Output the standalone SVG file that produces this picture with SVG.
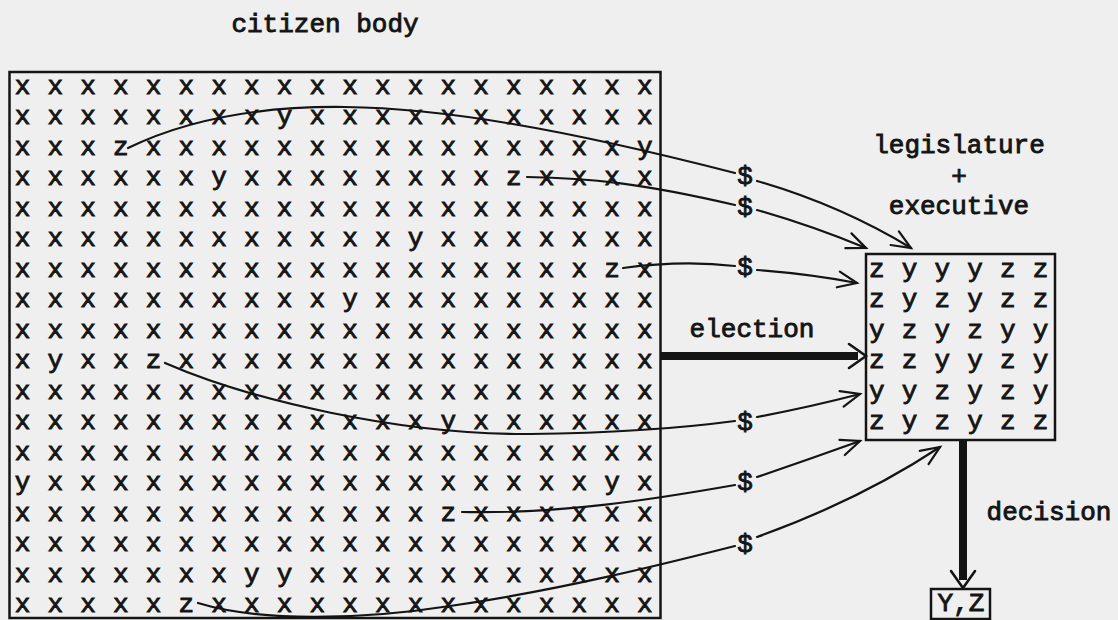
<svg xmlns="http://www.w3.org/2000/svg" width="1118" height="620" viewBox="0 0 1118 620">
<style>
text{font-family:"Liberation Mono","Courier New",monospace;font-size:26px;font-weight:normal;fill:#141414;stroke:#141414;stroke-width:0.9px}
.g{letter-spacing:0.775px}
.lbl{text-anchor:middle}
.box{fill:none;stroke:#141414;stroke-width:2.5}
.c{fill:none;stroke:#141414;stroke-width:2.2;stroke-linecap:round}
.thick{fill:none;stroke:#141414;stroke-width:8}
</style>
<defs>
<marker id="ah" markerUnits="userSpaceOnUse" viewBox="-24 -14 28 28" markerWidth="28" markerHeight="28" refX="0" refY="0" orient="auto" overflow="visible">
<path d="M-19,-8 L0,0 L-19,8" fill="none" stroke="#141414" stroke-width="2.2" stroke-linecap="round" stroke-linejoin="miter"/>
</marker>
<marker id="ahb" markerUnits="userSpaceOnUse" viewBox="-24 -16 36 32" markerWidth="36" markerHeight="32" refX="0" refY="0" orient="auto" overflow="visible">
<path d="M-9,-12 L8,0 L-9,12" fill="none" stroke="#141414" stroke-width="2.6" stroke-linecap="round"/>
</marker>
</defs>
<rect width="1118" height="620" fill="#efefef"/>

<g id="citizen-body">
<text class="lbl" x="325" y="32">citizen body</text>
<rect class="box" x="9.5" y="72" width="651" height="546"/>
<g class="g">
<text class="g" x="14.7" y="93.5">x x x x x x x x x x x x x x x x x x x x</text>
<text class="g" x="14.7" y="124">x x x x x x x x y x x x x x x x x x x x</text>
<text class="g" x="14.7" y="154.5">x x x z x x x x x x x x x x x x x x x y</text>
<text class="g" x="14.7" y="185">x x x x x x y x x x x x x x x z x x x x</text>
<text class="g" x="14.7" y="215.5">x x x x x x x x x x x x x x x x x x x x</text>
<text class="g" x="14.7" y="246">x x x x x x x x x x x x y x x x x x x x</text>
<text class="g" x="14.7" y="276.5">x x x x x x x x x x x x x x x x x x z x</text>
<text class="g" x="14.7" y="307">x x x x x x x x x x y x x x x x x x x x</text>
<text class="g" x="14.7" y="337.5">x x x x x x x x x x x x x x x x x x x x</text>
<text class="g" x="14.7" y="368">x y x x z x x x x x x x x x x x x x x x</text>
<text class="g" x="14.7" y="398.5">x x x x x x x x x x x x x x x x x x x x</text>
<text class="g" x="14.7" y="429">x x x x x x x x x x x x x y x x x x x x</text>
<text class="g" x="14.7" y="459.5">x x x x x x x x x x x x x x x x x x x x</text>
<text class="g" x="14.7" y="490">y x x x x x x x x x x x x x x x x x y x</text>
<text class="g" x="14.7" y="520.5">x x x x x x x x x x x x x z x x x x x x</text>
<text class="g" x="14.7" y="551">x x x x x x x x x x x x x x x x x x x x</text>
<text class="g" x="14.7" y="581.5">x x x x x x x y y x x x x x x x x x x x</text>
<text class="g" x="14.7" y="612">x x x x x z x x x x x x x x x x x x x x</text>
</g>
</g>

<g id="government">
<text class="lbl" x="959" y="153">legislature</text>
<text class="lbl" x="959" y="184">+</text>
<text class="lbl" x="959" y="214">executive</text>
<rect class="box" x="866" y="254" width="189" height="186"/>
<text class="g" x="868.9" y="276.5">z y y y z z</text>
<text class="g" x="868.9" y="307">z y z y z z</text>
<text class="g" x="868.9" y="337.5">y z y z y y</text>
<text class="g" x="868.9" y="368">z z y y z y</text>
<text class="g" x="868.9" y="398.5">y y z y z y</text>
<text class="g" x="868.9" y="429">z y z y z z</text>
</g>

<g id="outcome">
<rect class="box" x="931" y="589" width="59" height="30" stroke-width="2"/>
<text class="lbl" x="961" y="611">Y,Z</text>
</g>

<g id="connectors">
<path class="c" d="M128,148 C190,118 265,106 345,107 C440,108 560,128 735,173"/>
<path class="c" d="M757,181 Q840,205 911,248" marker-end="url(#ah)"/>
<path class="c" d="M527,177 C590,178 640,183 735,205"/>
<path class="c" d="M757,210 Q810,225 866,248" marker-end="url(#ah)"/>
<path class="c" d="M623,268 C660,263 700,262 735,266"/>
<path class="c" d="M757,270 Q810,274 857,283" marker-end="url(#ah)"/>
<path class="c" d="M165,363 C250,400 400,435 530,434 C620,433 690,427 735,421"/>
<path class="c" d="M757,417 Q810,407 860,394" marker-end="url(#ah)"/>
<path class="c" d="M462,512 C560,514 650,500 735,485"/>
<path class="c" d="M757,477 Q810,459 860,441" marker-end="url(#ah)"/>
<path class="c" d="M198,603 C260,622 360,620 450,606 C560,590 660,565 735,546"/>
<path class="c" d="M757,537 Q860,500 940,447" marker-end="url(#ah)"/>
<path class="thick" d="M661,356 L858,356" marker-end="url(#ahb)"/>
<path class="thick" d="M963,440 L963,580" marker-end="url(#ahb)"/>
<text class="lbl" x="745" y="184">$</text>
<text class="lbl" x="745" y="215">$</text>
<text class="lbl" x="745" y="275">$</text>
<text class="lbl" x="745" y="430">$</text>
<text class="lbl" x="745" y="490">$</text>
<text class="lbl" x="745" y="552">$</text>
<text class="lbl" x="752" y="337">election</text>
<text class="lbl" x="1049" y="520">decision</text>
</g>
</svg>
